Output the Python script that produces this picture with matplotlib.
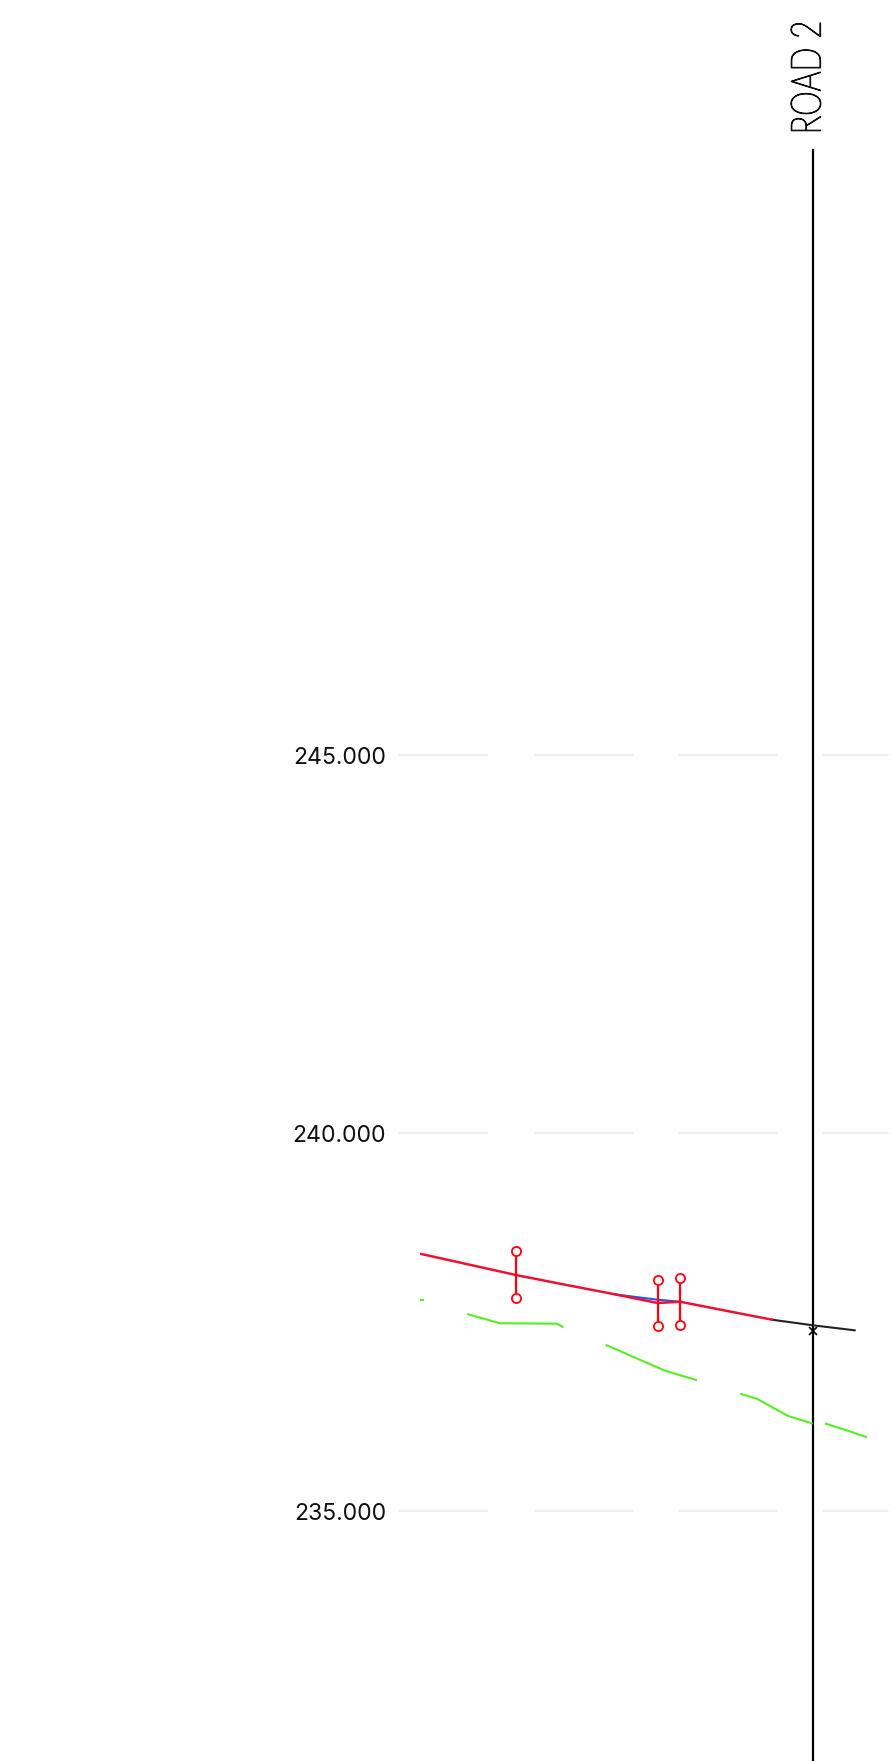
import matplotlib.pyplot as plt
from matplotlib.patheffects import AbstractPathEffect
from matplotlib.transforms import Affine2D

# levels
grid_levels = [245.0, 240.0, 235.0]
grid_labels = ['245.000', '240.000', '235.000']
grid_from = [399, 535, 679.3, 823.3]
grid_to = [488.3, 632.7, 776.7, 889]

# road centre line
road_x = 812.5
road_top = 252.998
road_name = 'ROAD 2'
crossing_level = 237.389

# design line (red), variant (blue), existing (black)
red_x = [421.3, 466.7, 516, 566.7, 613.3, 657.7, 680, 771.7]
red_y = [238.403, 238.270, 238.125, 237.993, 237.874, 237.755, 237.772, 237.535]
blue_x = [613.3, 620, 657.7, 680]
blue_y = [237.874, 237.861, 237.798, 237.772]
black_x = [771.7, 812.5, 854.7]
black_y = [237.535, 237.461, 237.394]

# green broken line
green_1_x = [421.3, 422.5]
green_1_y = [237.790, 237.790]
green_2_x = [468, 500, 556.7, 562.7]
green_2_y = [237.606, 237.487, 237.482, 237.441]
green_3_x = [606.7, 665, 696]
green_3_y = [237.196, 236.860, 236.738]
green_4_x = [741.3, 757.3, 788.3, 811.7]
green_4_y = [236.552, 236.486, 236.261, 236.165]
green_5_x = [826, 843.3, 866]
green_5_y = [236.159, 236.086, 235.984]

# red stems with circles
stem_x = [516, 657.7, 680.3]
stem_top = [238.442, 238.063, 238.085]
stem_bottom = [237.822, 237.447, 237.461]

y_low, y_high = 231.70, 254.982


class Squeeze(AbstractPathEffect):
    # the CAD font is much narrower than anything installed
    def __init__(self, factor, y_data, stroke):
        super().__init__()
        self.factor = factor
        self.y_data = y_data
        self.stroke = stroke

    def draw_path(self, renderer, gc, tpath, affine, rgbFace=None):
        y0 = ax.transData.transform((0, self.y_data))[1]
        squeeze = Affine2D().translate(0, -y0).scale(1, self.factor).translate(0, y0)
        gc0 = renderer.new_gc()
        gc0.copy_properties(gc)
        gc0.set_linewidth(self.stroke)
        gc0.set_foreground(rgbFace)
        renderer.draw_path(gc0, tpath, affine + squeeze, rgbFace)
        gc0.restore()


fig = plt.figure(figsize=(8.92, 17.61), dpi=100)
ax = fig.add_axes([0, 0, 1, 1])
ax.set_xlim(0, 892)
ax.set_ylim(y_low, y_high)
ax.axis('off')

for level, label in zip(grid_levels, grid_labels):
    for x0, x1 in zip(grid_from, grid_to):
        ax.plot([x0, x1], [level, level], color='#eeeeee', lw=1.6, solid_capstyle='butt')
    ax.text(386, level, label, ha='right', va='center_baseline', family=['Inter', 'DejaVu Sans'],
            fontsize=16.6, color='#111111')

ax.plot([road_x, road_x], [y_low, road_top], color='black', lw=1.6)
name_level = 253.957
ax.text(809.5, name_level, road_name, rotation=90, ha='center', va='center',
        family=['Lato', 'DejaVu Sans'], weight='light', fontsize=30, color='#111111',
        path_effects=[Squeeze(0.75, name_level, 0.9)])
ax.plot([road_x], [crossing_level], marker='x', color='black', ms=6, mew=1.2)

for gx, gy in [(green_1_x, green_1_y), (green_2_x, green_2_y), (green_3_x, green_3_y),
               (green_4_x, green_4_y), (green_5_x, green_5_y)]:
    ax.plot(gx, gy, color='#55ee22', lw=1.5)

ax.plot(black_x, black_y, color='#222222', lw=1.5)
ax.plot(blue_x, blue_y, color='#2255ee', lw=1.5)
ax.plot(red_x, red_y, color='#ee1133', lw=1.8)

for x, top, bottom in zip(stem_x, stem_top, stem_bottom):
    ax.plot([x, x], [top, bottom], color='#ff0011', lw=1.6, marker='o', ms=6.6,
            mfc='white', mec='#ff0011', mew=1.3)

fig.savefig('out.png', dpi=100, facecolor='white')
